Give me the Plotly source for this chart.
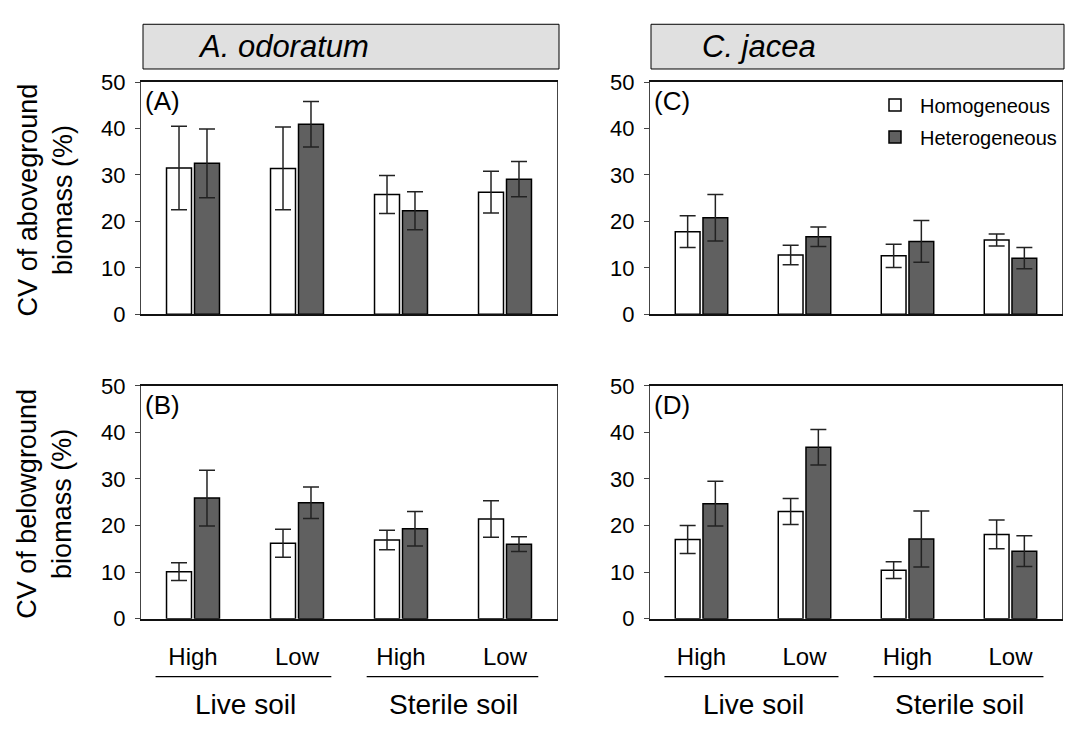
import plotly.graph_objects as go

# ---------------- data ----------------
levels = ["High", "Low", "High", "Low"]
soils = ["Live soil", "Sterile soil"]
series_names = ["Homogeneous", "Heterogeneous"]
species = ["A. odoratum", "C. jacea"]
panel_letters = ["(A)", "(B)", "(C)", "(D)"]

A_hom = [31.5, 31.4, 25.8, 26.3]
A_hom_err = [9.0, 8.9, 4.1, 4.5]
A_het = [32.5, 40.9, 22.3, 29.1]
A_het_err = [7.4, 4.9, 4.1, 3.8]

B_hom = [10.1, 16.2, 16.9, 21.4]
B_hom_err = [1.9, 3.0, 2.1, 3.9]
B_het = [25.9, 24.9, 19.3, 16.0]
B_het_err = [6.0, 3.4, 3.7, 1.6]

C_hom = [17.8, 12.8, 12.6, 16.0]
C_hom_err = [3.4, 2.1, 2.5, 1.3]
C_het = [20.8, 16.7, 15.7, 12.1]
C_het_err = [5.0, 2.1, 4.5, 2.3]

D_hom = [17.0, 23.0, 10.4, 18.1]
D_hom_err = [3.0, 2.8, 1.8, 3.1]
D_het = [24.7, 36.8, 17.1, 14.5]
D_het_err = [4.8, 3.8, 6.0, 3.3]

# ---------------- layout helpers ----------------
W, H = 1065, 736
def px(v):
    return v / W
def py(v):
    return 1 - v / H

FONT = "Liberation Sans, Arial, sans-serif"
WHITE = "#ffffff"
DARK = "#606060"
xpos = list(range(len(levels)))

fig = go.Figure()

panels = [
    ("", A_hom, A_hom_err, A_het, A_het_err),
    ("3", B_hom, B_hom_err, B_het, B_het_err),
    ("2", C_hom, C_hom_err, C_het, C_het_err),
    ("4", D_hom, D_hom_err, D_het, D_het_err),
]

for i, (sfx, hom, hom_e, het, het_e) in enumerate(panels):
    xa = "x" + sfx
    ya = "y" + sfx
    for name, vals, errs, col in [(series_names[0], hom, hom_e, WHITE),
                                  (series_names[1], het, het_e, DARK)]:
        fig.add_trace(go.Bar(
            x=xpos, y=vals, name=name, xaxis=xa, yaxis=ya,
            marker=dict(color=col, line=dict(color="#000000", width=1.5)),
            error_y=dict(type="data", array=errs, visible=True,
                         color="#222222", thickness=1.5, width=8),
            showlegend=(i == 0), legendgroup=name,
        ))

xdomA = [px(141), px(557)]
xdomC = [px(650), px(1062)]
ydomTop = [py(313), py(72.5)]
ydomBot = [py(628), py(387)]

def xaxis_cfg(dom, anchor, show_labels):
    return dict(domain=dom, anchor=anchor, range=[-0.5, 3.5],
                tickvals=xpos, ticktext=levels, showticklabels=show_labels,
                ticks="", showline=True, linecolor="#111111", linewidth=1.5,
                mirror=True, showgrid=False, zeroline=False,
                tickfont=dict(family=FONT, size=24, color="#000000"),
                ticklabelstandoff=16)

def yaxis_cfg(dom, anchor):
    return dict(domain=dom, anchor=anchor, range=[0, 50], dtick=10,
                ticks="outside", ticklen=5, tickcolor="#444444",
                showline=True, linecolor="#444444", linewidth=1,
                mirror=True, showgrid=False, zeroline=False,
                tickfont=dict(family=FONT, size=22, color="#000000"),
                ticklabelstandoff=5)

fig.update_layout(
    width=W, height=H,
    margin=dict(l=0, r=0, t=0, b=0),
    paper_bgcolor="#ffffff", plot_bgcolor="#ffffff",
    barmode="group", bargap=0.462, bargroupgap=0.107,
    font=dict(family=FONT, color="#000000"),
    xaxis=xaxis_cfg(xdomA, "y", False),
    yaxis=yaxis_cfg(ydomTop, "x"),
    xaxis2=xaxis_cfg(xdomC, "y2", False),
    yaxis2=yaxis_cfg(ydomTop, "x2"),
    xaxis3=xaxis_cfg(xdomA, "y3", True),
    yaxis3=yaxis_cfg(ydomBot, "x3"),
    xaxis4=xaxis_cfg(xdomC, "y4", True),
    yaxis4=yaxis_cfg(ydomBot, "x4"),
    legend=dict(x=px(870), y=py(76), xanchor="left", yanchor="top",
                font=dict(family=FONT, size=20, color="#000000"),
                bgcolor="rgba(0,0,0,0)", tracegroupgap=3,
                itemwidth=40),
)

annotations = []
shapes = []

# panel letters
for sfx, letter in [("", "(A)"), ("3", "(B)"), ("2", "(C)"), ("4", "(D)")]:
    xr = ("x" + sfx) + " domain"
    yr = ("y" + sfx) + " domain"
    annotations.append(dict(text=letter, xref=xr, yref=yr, x=0.005, y=0.99,
                            xanchor="left", yanchor="top", showarrow=False,
                            font=dict(family=FONT, size=26, color="#000000")))

# y titles
for yc, txt in [(195, "CV of aboveground<br>biomass (%)"),
                (509, "CV of belowground<br>biomass (%)")]:
    annotations.append(dict(text=txt, xref="paper", yref="paper",
                            x=px(45), y=py(yc), xanchor="center", yanchor="middle",
                            textangle=-90, showarrow=False,
                            font=dict(family=FONT, size=27, color="#000000")))

# species header boxes
for (x0, x1), name, tx in [((143, 559), species[0], 196), ((651, 1064), species[1], 700)]:
    shapes.append(dict(type="rect", xref="paper", yref="paper",
                       x0=px(x0), x1=px(x1), y0=py(59), y1=py(12.7),
                       fillcolor="#e0e0e0", line=dict(color="#000000", width=1)))
    annotations.append(dict(text="<i>" + name + "</i>", xref="paper", yref="paper",
                            x=px(tx), y=py(36), xanchor="left", yanchor="middle",
                            showarrow=False,
                            font=dict(family=FONT, size=31, color="#000000")))

# soil group lines and labels under the bottom panels
for xa in ["x3", "x4"]:
    for (a, b), soil, c in [((-0.36, 1.33), soils[0], 0.5), ((1.67, 3.32), soils[1], 2.5)]:
        shapes.append(dict(type="line", xref=xa, yref="paper",
                           x0=a, x1=b, y0=py(688), y1=py(688),
                           line=dict(color="#000000", width=1.2)))
        annotations.append(dict(text=soil, xref=xa, yref="paper",
                                x=c, y=py(717), xanchor="center", yanchor="middle",
                                showarrow=False,
                                font=dict(family=FONT, size=28, color="#000000")))

fig.update_layout(annotations=annotations, shapes=shapes)

fig.write_html("out.html")
